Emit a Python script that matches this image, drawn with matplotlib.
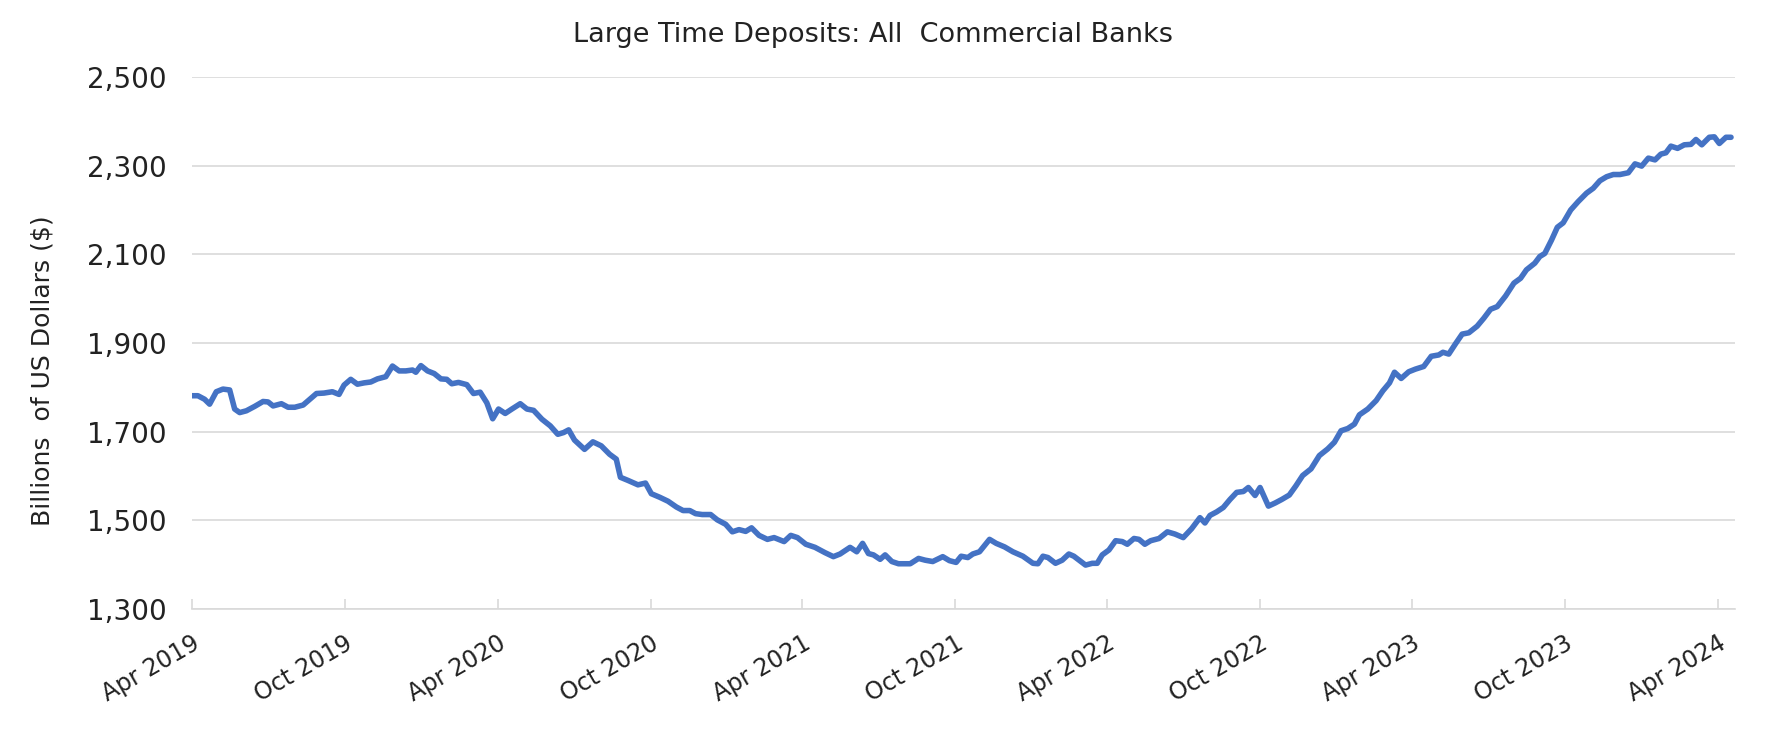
import matplotlib
matplotlib.use("Agg")
import matplotlib.pyplot as plt
from matplotlib.ticker import FuncFormatter
import pandas as pd

start_date = "2019-04-01"
days = [0, 7, 15, 21, 29, 37, 45, 51, 57, 65, 75, 85, 91, 97, 107, 115, 123, 133, 141, 149,
        158, 168, 176, 182, 190, 198, 206, 214, 222, 232, 240, 248, 256, 264, 268, 274, 282, 290, 298, 305,
        311, 319, 329, 337, 345, 353, 360, 367, 375, 383, 393, 401, 409, 419, 429, 438, 445, 451, 458, 470,
        480, 490, 500, 508, 513, 522, 534, 543, 550, 560, 570, 580, 588, 596, 603, 611,
        615, 621, 629, 639, 647, 655, 663, 670, 679, 689, 697, 709, 717, 725, 735, 746, 758, 768, 776, 788,
        796, 803, 810, 816, 824, 830, 838, 846, 860, 870, 878, 887, 899, 907, 915,
        921, 929, 935, 943, 955, 963, 973, 983, 995, 1007, 1013, 1019, 1025, 1034, 1042, 1050, 1056, 1070,
        1078, 1084, 1090, 1098, 1106, 1114, 1120, 1128, 1134, 1141, 1148, 1158, 1168, 1177, 1187, 1197,
        1207, 1213, 1219,
        1227, 1235, 1243, 1251, 1259, 1265, 1273, 1279, 1289, 1297, 1305, 1314, 1322, 1330, 1340, 1350,
        1360, 1368, 1376, 1384, 1392, 1398, 1408, 1418, 1426, 1434, 1440, 1448, 1457, 1465, 1475, 1484,
        1493, 1498, 1505, 1513, 1521,
        1529, 1539, 1547, 1555, 1563, 1573, 1583, 1591, 1598, 1608, 1614, 1620, 1628, 1635, 1642, 1651,
        1660, 1670, 1678, 1686, 1694, 1702, 1710, 1720, 1728, 1736, 1744, 1752, 1759, 1765, 1771, 1779,
        1787, 1795, 1801, 1808, 1817, 1823, 1829, 1837, 1843]
values = [1781, 1781, 1773, 1762, 1790, 1796, 1794, 1751, 1743, 1747, 1757, 1768, 1767, 1758, 1763, 1755, 1755, 1760, 1773, 1786,
          1787, 1790, 1784, 1805, 1818, 1807, 1810, 1812, 1819, 1824, 1848, 1837, 1837, 1839, 1834, 1849, 1837, 1831, 1819, 1818,
          1808, 1811, 1806, 1786, 1789, 1765, 1729, 1751, 1741, 1751, 1763, 1751, 1748, 1728, 1713, 1694, 1698, 1704, 1681, 1660,
          1677, 1668, 1649, 1638, 1597, 1590, 1580, 1584, 1560, 1552, 1543, 1530, 1522, 1522, 1515, 1513,
          1513, 1513, 1501, 1491, 1474, 1479, 1475, 1483, 1466, 1457, 1461, 1452, 1466, 1461, 1446, 1439, 1427, 1418, 1424, 1439,
          1429, 1448, 1425, 1422, 1412, 1422, 1407, 1402, 1402, 1414, 1410, 1407, 1418, 1409, 1405,
          1419, 1416, 1424, 1429, 1457, 1448, 1440, 1429, 1419, 1403, 1402, 1419, 1416, 1403, 1410, 1424, 1419, 1399,
          1403, 1403, 1422, 1433, 1454, 1452, 1446, 1459, 1457, 1446, 1454, 1459, 1474, 1469, 1461, 1481,
          1506, 1494, 1511,
          1519, 1529, 1547, 1563, 1565, 1574, 1556, 1574, 1532, 1539, 1547, 1557, 1578, 1601, 1616, 1646,
          1661, 1676, 1702, 1707, 1717, 1738, 1751, 1770, 1792, 1810, 1834, 1820, 1835, 1841, 1847, 1870,
          1873, 1879, 1875, 1898, 1920,
          1923, 1938, 1956, 1976, 1982, 2006, 2035, 2046, 2065, 2080, 2095, 2102, 2132, 2161, 2171, 2200,
          2219, 2238, 2249, 2266, 2275, 2280, 2280, 2284, 2304, 2299, 2317, 2313, 2326, 2329, 2344, 2339,
          2347, 2348, 2359, 2347, 2364, 2365, 2350, 2364, 2364]

y_ticks = [1300, 1500, 1700, 1900, 2100, 2300, 2500]
x_tick_dates = ["2019-04-01", "2019-10-01", "2020-04-01", "2020-10-01", "2021-04-01", "2021-10-01",
                "2022-04-01", "2022-10-01", "2023-04-01", "2023-10-01", "2024-04-01"]
x_tick_labels = ["Apr 2019", "Oct 2019", "Apr 2020", "Oct 2020", "Apr 2021", "Oct 2021",
                 "Apr 2022", "Oct 2022", "Apr 2023", "Oct 2023", "Apr 2024"]

title = "Large Time Deposits: All  Commercial Banks"
ylabel = "Billions  of US Dollars ($)"

dates = pd.to_datetime(start_date) + pd.to_timedelta(days, unit="D")

plt.rcParams['font.family'] = ['DejaVu Sans']
fig = plt.figure(figsize=(17.67, 7.36), dpi=100)
ax = fig.add_axes([0.1087, 0.1726, 0.8733, 0.7228])

ax.plot(dates, values, color="#4472C4", linewidth=4.0, solid_joinstyle="round",
        solid_capstyle="round", zorder=3)

ax.set_ylim(1300, 2500)
ax.set_xlim(pd.Timestamp("2019-04-01"), pd.Timestamp("2024-04-22"))
ax.set_yticks(y_ticks)
ax.yaxis.set_major_formatter(FuncFormatter(lambda v, p: f"{int(v):,}"))
ax.set_xticks(pd.to_datetime(x_tick_dates))
ax.set_xticklabels(x_tick_labels, rotation=30, ha="right", rotation_mode="anchor")

ax.grid(axis="y", color="#D9D9D9", linewidth=1.2)
ax.set_axisbelow(True)
for s in ["top", "right", "left"]:
    ax.spines[s].set_visible(False)
ax.spines["bottom"].set_color("#D9D9D9")
ax.spines["bottom"].set_linewidth(1.2)

ax.tick_params(axis="y", length=0, pad=18, labelsize=20, labelcolor="#222222")
ax.tick_params(axis="x", direction="in", length=7, width=1.2, color="#D9D9D9",
               pad=16, labelsize=17, labelcolor="#222222")

ax.set_ylabel(ylabel, fontsize=18, color="#222222")
ax.yaxis.set_label_coords(-0.089, 0.447)
fig.text(0.494, 0.953, title, ha="center", va="center", fontsize=19.5, color="#222222")

fig.savefig("out.png", dpi=100)
